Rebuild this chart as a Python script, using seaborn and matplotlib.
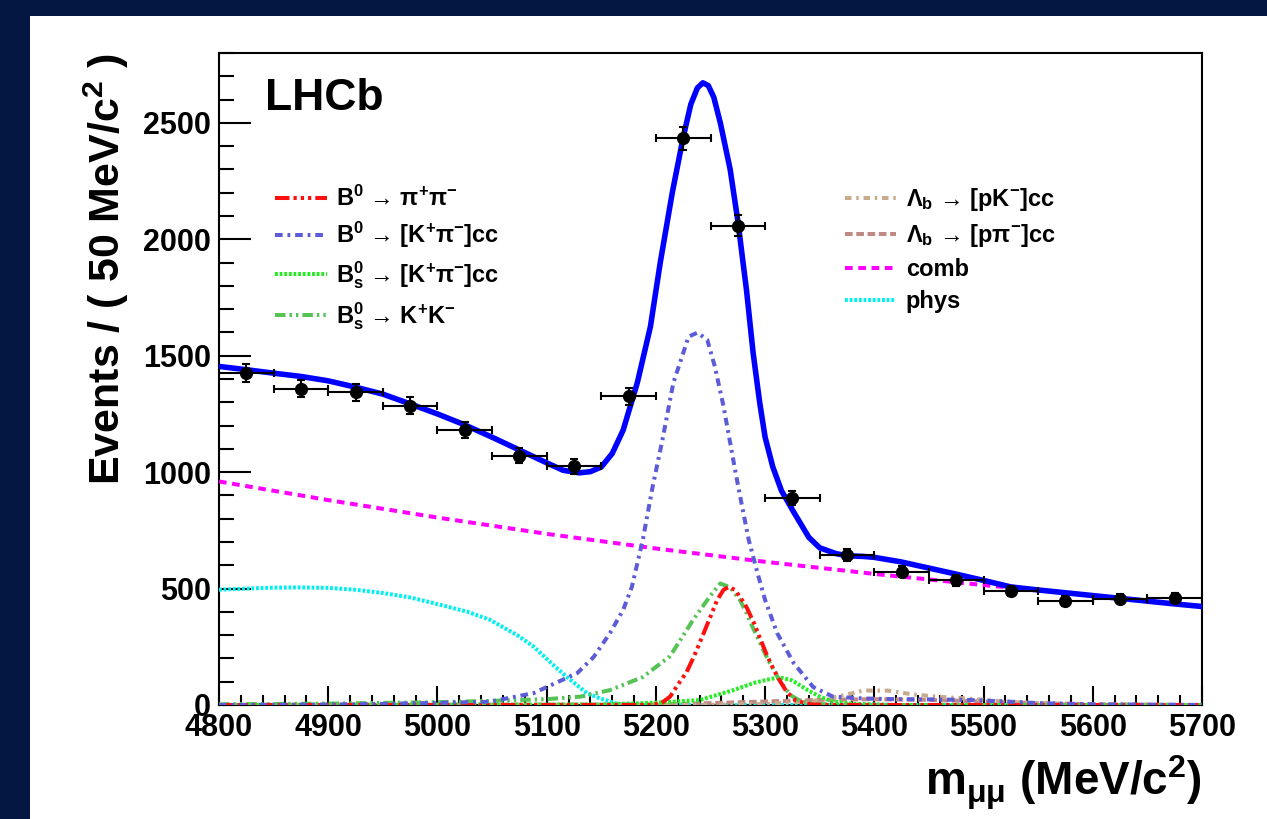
import numpy as np
import pandas as pd
import matplotlib
matplotlib.use("Agg")
import matplotlib.pyplot as plt
from matplotlib.patches import Rectangle
from matplotlib.lines import Line2D
from matplotlib.ticker import MultipleLocator
import seaborn as sns

# ---------------- data ----------------
bin_centers = [4825, 4875, 4925, 4975, 5025, 5075, 5125, 5175, 5225,
               5275, 5325, 5375, 5425, 5475, 5525, 5575, 5625, 5675]
events = [1427, 1359, 1343, 1285, 1182, 1071, 1025, 1326, 2433,
          2058, 888, 645, 572, 535, 488, 445, 457, 461]
events_err = [38, 37, 37, 36, 34, 33, 32, 36, 49,
              45, 30, 25, 24, 23, 22, 21, 21, 22]
bin_half_width = 25

total_m = [4800, 4825, 4850, 4875, 4900, 4925, 4950, 4975, 5000, 5025, 5050,
           5075, 5100, 5115, 5130, 5140, 5150, 5160, 5170, 5183, 5195, 5204,
           5215, 5225, 5232, 5238, 5243, 5248, 5253, 5259, 5268, 5275, 5283,
           5289, 5295, 5300, 5307, 5315, 5326, 5340, 5350, 5365, 5375, 5390,
           5400, 5424, 5450, 5475, 5500, 5525, 5550, 5575, 5600, 5625, 5650,
           5675, 5700]
total_v = [1454, 1440, 1425, 1411, 1392, 1365, 1335, 1293, 1250, 1203, 1150,
           1095, 1040, 1008, 997, 1002, 1022, 1080, 1180, 1384, 1625, 1900,
           2200, 2438, 2580, 2650, 2672, 2660, 2610, 2500, 2300, 2080, 1780,
           1513, 1300, 1150, 1023, 920, 830, 720, 675, 650, 641, 638,
           634, 615, 588, 562, 535, 507, 494, 482, 470, 458, 446,
           434, 423]

comb_m = [4800, 4900, 5000, 5100, 5200, 5300, 5400, 5500, 5600, 5700]
comb_v = [960, 880, 805, 735, 672, 615, 563, 515, 470, 423]

phys_m = [4800, 4825, 4850, 4875, 4900, 4925, 4950, 4975, 4996, 5027, 5048,
          5073, 5088, 5106, 5118, 5137, 5149, 5165, 5180, 5700]
phys_v = [495, 500, 504, 505, 503, 495, 481, 462, 438, 401, 366,
          300, 251, 172, 122, 50, 28, 5, 0, 0]

kpi_m = [4800, 4900, 4950, 5000, 5048, 5088, 5128, 5143, 5158, 5170, 5178,
         5188, 5197, 5206, 5216, 5230, 5238, 5247, 5254, 5262, 5268, 5273,
         5279, 5285, 5293, 5300, 5311, 5326, 5344, 5362, 5390, 5420, 5450,
         5485, 5520, 5550, 5600, 5700]
kpi_v = [0, 2, 5, 9, 14, 51, 137, 206, 309, 408, 507,
         709, 937, 1139, 1384, 1582, 1599, 1569, 1453, 1281, 1126, 997,
         851, 709, 567, 451, 309, 181, 77, 36, 28, 25, 24,
         22, 15, 8, 3, 0]

pipi_m = [4800, 5195, 5205, 5213, 5222, 5228, 5235, 5243, 5250, 5256, 5262,
          5267, 5272, 5277, 5283, 5290, 5295, 5302, 5308, 5314, 5320, 5328,
          5340, 5360, 5700]
pipi_v = [0, 0, 8, 36, 100, 140, 210, 300, 380, 450, 495,
          507, 495, 465, 420, 350, 290, 210, 150, 100, 55, 20,
          3, 0, 0]

kk_m = [4800, 4900, 5000, 5050, 5100, 5131, 5158, 5188, 5213, 5234, 5250,
        5259, 5268, 5277, 5283, 5289, 5302, 5314, 5323, 5333, 5345, 5400, 5700]
kk_v = [3, 6, 12, 18, 25, 36, 64, 120, 210, 365, 470,
        522, 505, 451, 395, 330, 200, 100, 43, 15, 4, 0, 0]

bskpi_m = [4800, 5150, 5200, 5240, 5271, 5290, 5305, 5314, 5325, 5339, 5350,
           5362, 5380, 5420, 5700]
bskpi_v = [0, 2, 10, 21, 64, 95, 112, 118, 105, 64, 36,
           15, 5, 0, 0]

lbpk_m = [4800, 5250, 5300, 5350, 5375, 5390, 5412, 5436, 5460, 5485, 5510,
          5530, 5560, 5600, 5700]
lbpk_v = [0, 1, 4, 20, 45, 62, 62, 45, 35, 28, 18,
          12, 5, 0, 0]

lbppi_m = [4800, 5200, 5250, 5300, 5350, 5400, 5450, 5500, 5550, 5600, 5700]
lbppi_v = [0, 2, 8, 15, 22, 25, 22, 15, 8, 3, 0]

x_ticks = [4800, 4900, 5000, 5100, 5200, 5300, 5400, 5500, 5600, 5700]
y_ticks = [0, 500, 1000, 1500, 2000, 2500]

labels_left = [r"B$^{0}$ → π$^{+}$π$^{-}$",
               r"B$^{0}$ → [K$^{+}$π$^{-}$]cc",
               r"B$^{0}_{s}$ → [K$^{+}$π$^{-}$]cc",
               r"B$^{0}_{s}$ → K$^{+}$K$^{-}$"]
labels_right = [r"Λ$_{b}$ → [pK$^{-}$]cc",
                r"Λ$_{b}$ → [pπ$^{-}$]cc",
                "comb",
                "phys"]

# ---------------- style ----------------
sns.set_style("ticks")
plt.rcParams["font.family"] = ["Liberation Sans", "DejaVu Sans"]
plt.rcParams["font.weight"] = "bold"
plt.rcParams["mathtext.fontset"] = "custom"
plt.rcParams["mathtext.rm"] = "Liberation Sans:bold"
plt.rcParams["mathtext.it"] = "Liberation Sans:bold"
plt.rcParams["mathtext.bf"] = "Liberation Sans:bold"
plt.rcParams["mathtext.sf"] = "Liberation Sans:bold"
for key in ["text.color", "axes.labelcolor", "xtick.color", "ytick.color",
            "axes.edgecolor"]:
    plt.rcParams[key] = "black"

W, H = 1267, 819
fig = plt.figure(figsize=(W / 100, H / 100), dpi=100, facecolor="#041642")
fig.add_artist(Rectangle((30 / W, 0), 1 - 30 / W, 1 - 16 / H,
                         transform=fig.transFigure, facecolor="white",
                         edgecolor="none", zorder=-10))
ax = fig.add_axes([219 / W, 1 - 705 / H, 983 / W, 652 / H])
ax.set_facecolor("white")

LW = 2.9
styles = {
    "pipi": dict(color="#ff1010", linestyle=(0, (3.6, 1.0, 0.8, 1.0, 0.8, 1.0, 0.8, 1.0))),
    "kpi": dict(color="#5c5cd8", linestyle=(0, (1.9, 1.2, 0.7, 1.2))),
    "bskpi": dict(color="#22ee22", linestyle=(0, (0.7, 0.45))),
    "kk": dict(color="#55c455", linestyle=(0, (2.6, 1.0, 0.6, 1.0, 0.6, 1.0))),
    "lbpk": dict(color="#c8aa8c", linestyle=(0, (1.6, 1.2, 0.6, 1.2))),
    "lbppi": dict(color="#c08a84", linestyle=(0, (1.9, 0.9))),
    "comb": dict(color="#ff00ff", linestyle=(0, (1.9, 1.4))),
    "phys": dict(color="#00f0f0", linestyle=(0, (0.7, 0.45))),
}

curves = [("phys", phys_m, phys_v), ("comb", comb_m, comb_v),
          ("lbppi", lbppi_m, lbppi_v), ("lbpk", lbpk_m, lbpk_v),
          ("bskpi", bskpi_m, bskpi_v), ("kk", kk_m, kk_v),
          ("pipi", pipi_m, pipi_v), ("kpi", kpi_m, kpi_v)]
for name, mm, vv in curves:
    df = pd.DataFrame({"m": mm, "v": vv})
    sns.lineplot(data=df, x="m", y="v", ax=ax, lw=LW, sort=True,
                 estimator=None, zorder=3, **styles[name])

df_tot = pd.DataFrame({"m": total_m, "v": total_v})
sns.lineplot(data=df_tot, x="m", y="v", ax=ax, color="#0000ff", lw=4.0,
             estimator=None, zorder=4, solid_joinstyle="round")

ax.errorbar(bin_centers, events, xerr=bin_half_width, yerr=events_err,
            fmt="o", color="black", ms=8.5, elinewidth=1.5, capsize=3,
            capthick=1.5, zorder=5)

ax.set_xlim(4800, 5700)
ax.set_ylim(0, 2800)
ax.set_xticks(x_ticks)
ax.set_yticks(y_ticks)
ax.xaxis.set_minor_locator(MultipleLocator(20))
ax.yaxis.set_minor_locator(MultipleLocator(100))
ax.tick_params(axis="both", which="both", direction="in", width=1.5,
               top=False, right=False, labelsize=22, colors="black")
ax.tick_params(axis="y", which="major", length=23, pad=6)
ax.tick_params(axis="y", which="minor", length=11)
ax.tick_params(axis="x", which="major", length=14, pad=6)
ax.tick_params(axis="x", which="minor", length=7)
for lab in ax.get_xticklabels() + ax.get_yticklabels():
    lab.set_fontweight("bold")
for sp in ax.spines.values():
    sp.set_visible(True)
    sp.set_linewidth(1.5)
    sp.set_color("black")

ax.set_xlabel(r"m$_{μμ}$ (MeV/c$^{2}$)", fontsize=33, fontweight="bold",
              loc="right", color="black")
ax.xaxis.set_label_coords(1.0, -0.075)
ax.set_ylabel(r"Events / ( 50 MeV/c$^{2}$ )", fontsize=31, fontweight="bold",
              loc="top", color="black")
ax.yaxis.set_label_coords(-0.09, 1.0)

ax.text(0.047, 0.962, "LHCb", transform=ax.transAxes, fontsize=32,
        fontweight="bold", va="top", ha="left", color="black")

def handle(name):
    return Line2D([], [], lw=LW, **styles[name])

handles = [handle(n) for n in ["pipi", "kpi", "bskpi", "kk",
                               "lbpk", "lbppi", "comb", "phys"]]
leg = ax.legend(handles, labels_left + labels_right, ncol=2,
                frameon=False, fontsize=17, handlelength=2.2,
                handletextpad=0.4, labelspacing=0.38, borderpad=0,
                borderaxespad=0, columnspacing=14.6, loc="upper left",
                bbox_to_anchor=(0.057, 0.796), labelcolor="black")

fig.savefig("out.png", dpi=100, facecolor=fig.get_facecolor())
